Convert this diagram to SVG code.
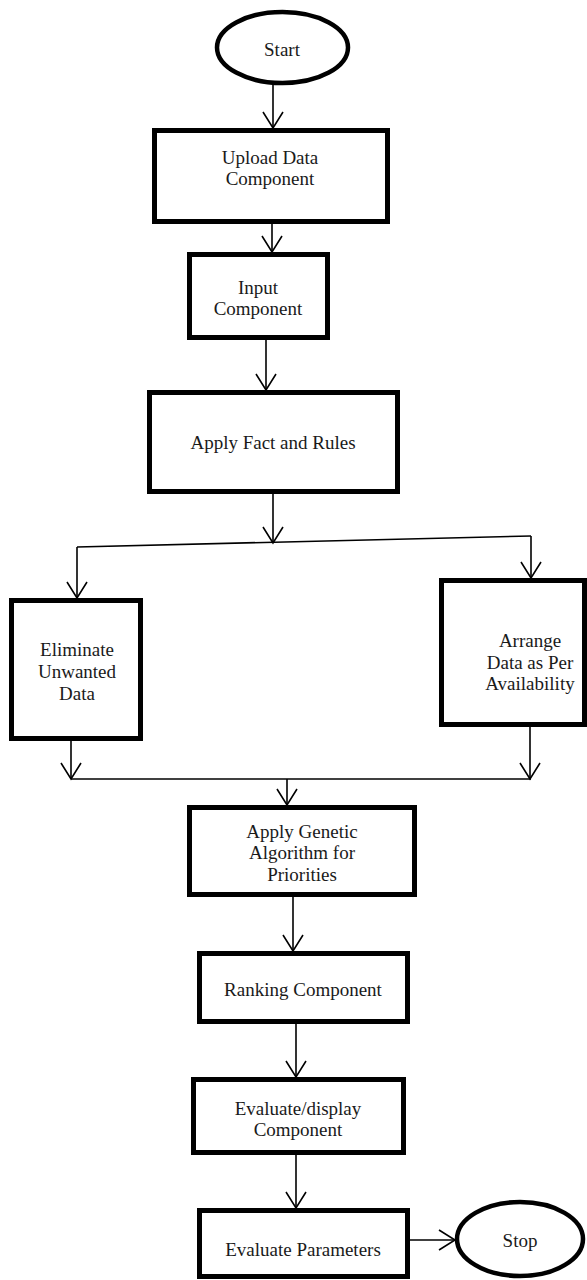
<svg xmlns="http://www.w3.org/2000/svg" width="587" height="1280" viewBox="0 0 587 1280">
  <defs>
    <style>
      .box { fill: #ffffff; stroke: #000000; stroke-width: 5; }
      .term { fill: #ffffff; stroke: #000000; stroke-width: 4.5; }
      .conn { fill: none; stroke: #000000; stroke-width: 1.6; }
      .lbl { font-family: "Liberation Serif", "Times New Roman", serif; font-size: 19px; fill: #1a1a1a; text-anchor: middle; dominant-baseline: central; }
    </style>
    <marker id="arrow" markerUnits="userSpaceOnUse" markerWidth="24" markerHeight="24" viewBox="-18 -12 20 24" refX="0" refY="0" orient="auto">
      <path d="M-16,-10 L0,0 L-16,10" fill="none" stroke="#000000" stroke-width="1.6"/>
    </marker>
  </defs>
  <rect width="587" height="1280" fill="#ffffff"/>

  <g id="connectors">
    <line class="conn" x1="273" y1="83" x2="273" y2="128" marker-end="url(#arrow)"/>
    <line class="conn" x1="272" y1="224" x2="272" y2="252" marker-end="url(#arrow)"/>
    <line class="conn" x1="266" y1="340" x2="266" y2="390" marker-end="url(#arrow)"/>
    <line class="conn" x1="273" y1="494" x2="273" y2="543" marker-end="url(#arrow)"/>
    <line class="conn" x1="77" y1="547" x2="531" y2="536"/>
    <line class="conn" x1="77" y1="547" x2="77" y2="598" marker-end="url(#arrow)"/>
    <line class="conn" x1="531" y1="536" x2="531" y2="578" marker-end="url(#arrow)"/>
    <line class="conn" x1="71" y1="741" x2="71" y2="779" marker-end="url(#arrow)"/>
    <line class="conn" x1="530" y1="727" x2="530" y2="779" marker-end="url(#arrow)"/>
    <line class="conn" x1="71" y1="779" x2="531" y2="779"/>
    <line class="conn" x1="287" y1="779" x2="287" y2="805" marker-end="url(#arrow)"/>
    <line class="conn" x1="293" y1="897" x2="293" y2="951" marker-end="url(#arrow)"/>
    <line class="conn" x1="296" y1="1024" x2="296" y2="1077" marker-end="url(#arrow)"/>
    <line class="conn" x1="296" y1="1155" x2="296" y2="1208" marker-end="url(#arrow)"/>
    <line class="conn" x1="410" y1="1240" x2="455" y2="1240" marker-end="url(#arrow)"/>
  </g>

  <g id="start">
    <ellipse class="term" cx="282.5" cy="47.5" rx="65.5" ry="35.5"/>
    <text class="lbl" x="282" y="49">Start</text>
  </g>
  <g id="upload">
    <rect class="box" x="154.5" y="130.5" width="233" height="91"/>
    <text class="lbl" x="270" y="157">Upload Data</text>
    <text class="lbl" x="270" y="178">Component</text>
  </g>
  <g id="input">
    <rect class="box" x="189.5" y="254.5" width="138" height="83"/>
    <text class="lbl" x="258" y="287">Input</text>
    <text class="lbl" x="258" y="308">Component</text>
  </g>
  <g id="apply">
    <rect class="box" x="149.5" y="392.5" width="248" height="99"/>
    <text class="lbl" x="273" y="442">Apply Fact and Rules</text>
  </g>
  <g id="eliminate">
    <rect class="box" x="11.5" y="600.5" width="129" height="138"/>
    <text class="lbl" x="77" y="649">Eliminate</text>
    <text class="lbl" x="77" y="671">Unwanted</text>
    <text class="lbl" x="77" y="693">Data</text>
  </g>
  <g id="arrange">
    <rect class="box" x="441.5" y="580.5" width="143" height="144"/>
    <text class="lbl" x="530" y="640">Arrange</text>
    <text class="lbl" x="530" y="662">Data as Per</text>
    <text class="lbl" x="530" y="683">Availability</text>
  </g>
  <g id="genetic">
    <rect class="box" x="189.5" y="807.5" width="225" height="87"/>
    <text class="lbl" x="302" y="831">Apply Genetic</text>
    <text class="lbl" x="302" y="852">Algorithm for</text>
    <text class="lbl" x="302" y="874">Priorities</text>
  </g>
  <g id="ranking">
    <rect class="box" x="199.5" y="953.5" width="208" height="68"/>
    <text class="lbl" x="303" y="989">Ranking Component</text>
  </g>
  <g id="evaluate-display">
    <rect class="box" x="193.5" y="1079.5" width="210" height="73"/>
    <text class="lbl" x="298" y="1108">Evaluate/display</text>
    <text class="lbl" x="298" y="1129">Component</text>
  </g>
  <g id="evaluate-parameters">
    <rect class="box" x="199.5" y="1210.5" width="208" height="66"/>
    <text class="lbl" x="303" y="1249">Evaluate Parameters</text>
  </g>
  <g id="stop">
    <ellipse class="term" cx="520" cy="1239" rx="63" ry="37"/>
    <text class="lbl" x="520" y="1240">Stop</text>
  </g>
</svg>
